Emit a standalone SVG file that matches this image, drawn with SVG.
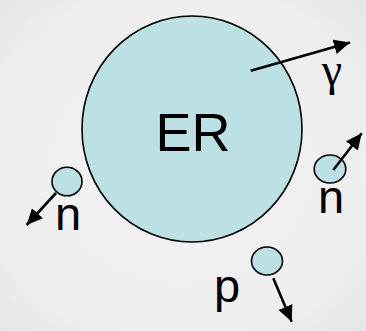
<svg xmlns="http://www.w3.org/2000/svg" width="366" height="331" viewBox="0 0 366 331">
  <defs>
    <radialGradient id="bg" cx="50%" cy="50%" r="75%">
      <stop offset="0" stop-color="#f3f3f3"/>
      <stop offset="0.7" stop-color="#eeeeee"/>
      <stop offset="1" stop-color="#e4e4e4"/>
    </radialGradient>
    <marker id="head" markerUnits="userSpaceOnUse" markerWidth="18" markerHeight="16" refX="16" refY="7.5" orient="auto">
      <path d="M0,0 L16,7.5 L0,15 z" fill="#000"/>
    </marker>
    <style>
      .body { fill: #bce0e3; stroke: #000; stroke-width: 1.6; }
      .particle { fill: #bce0e3; stroke: #000; stroke-width: 1.6; }
      .ray { stroke: #000; stroke-width: 2.6; fill: none; marker-end: url(#head); }
      .lbl { font-family: "Liberation Sans", Arial, sans-serif; fill: #000; text-anchor: middle; }
      .greek { font-family: "Liberation Serif", "Times New Roman", serif; fill: #000; text-anchor: middle; }
    </style>
  </defs>

  <rect width="366" height="331" fill="url(#bg)"/>

  <!-- central body -->
  <g id="er">
    <ellipse class="body" cx="192" cy="129" rx="110" ry="113"/>
    <text class="lbl" x="193" y="150.5" font-size="54">ER</text>
  </g>

  <!-- emitted particles -->
  <g id="n-left">
    <ellipse class="particle" cx="67" cy="181.5" rx="15" ry="14.3"/>
    <text class="lbl" x="68" y="230" font-size="47">n</text>
  </g>
  <g id="n-right">
    <ellipse class="particle" cx="330" cy="169" rx="15.8" ry="14"/>
    <text class="lbl" x="331" y="213" font-size="47">n</text>
  </g>
  <g id="p">
    <ellipse class="particle" cx="267" cy="261" rx="15.5" ry="14"/>
    <text class="lbl" x="227" y="301.5" font-size="47">p</text>
  </g>
  <g id="gamma">
    <text class="greek" x="332" y="85" font-size="46">γ</text>
  </g>

  <!-- direction arrows -->
  <g id="connectors">
    <line class="ray" x1="250.7" y1="70.7" x2="350" y2="42.5"/>
    <line class="ray" x1="56" y1="193" x2="26.7" y2="225"/>
    <line class="ray" x1="333.3" y1="170" x2="361.7" y2="133.3"/>
    <line class="ray" x1="273.3" y1="278.3" x2="291.7" y2="321.7"/>
  </g>
</svg>
